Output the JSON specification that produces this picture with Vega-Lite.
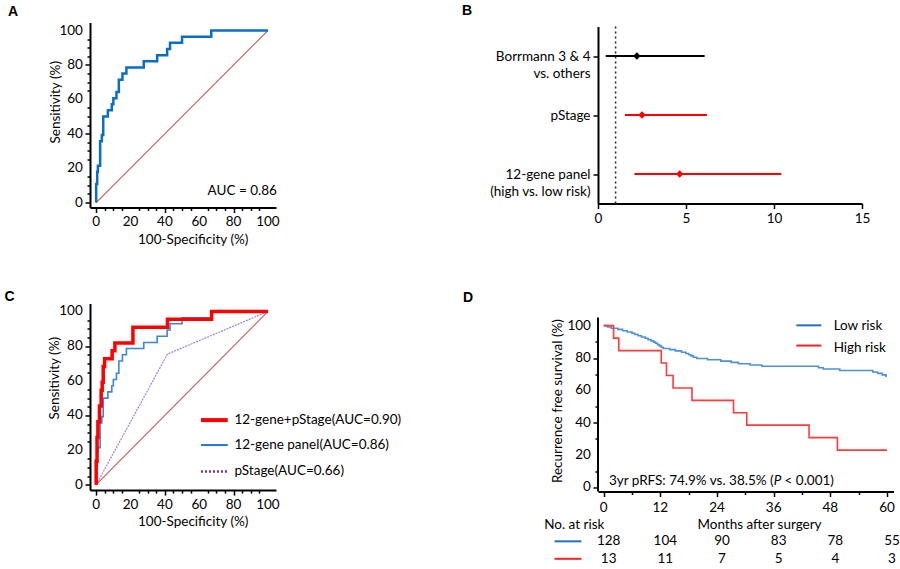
{
  "$schema": "https://vega.github.io/schema/vega-lite/v6.json",
  "background": "white",
  "padding": {"left": 4, "top": 3.5, "right": 5, "bottom": 5},
  "columns": 2,
  "bounds": "flush",
  "align": "each",
  "center": {"row": true, "column": false},
  "spacing": {"row": 96, "column": 322},
  "resolve": {"scale": {"color": "independent"}},
  "config": {
    "font": "Lato",
    "view": {"stroke": null},
    "axis": {"domainColor": "#000", "domainWidth": 2, "tickColor": "#000", "tickWidth": 1.5, "labelFont": "Lato", "labelFontSize": 13.5, "labelColor": "#000", "titleFont": "Lato", "titleFontSize": 13.5, "titleFontWeight": "normal", "titleColor": "#000", "grid": false, "labelFlush": false},
    "text": {"font": "Lato", "fontSize": 13.5, "color": "#000"},
    "title": {"font": "Liberation Sans", "fontSize": 14, "fontWeight": "bold", "anchor": "start", "frame": "group", "baseline": "alphabetic", "color": "#000"}
  },
  "datasets": {
    "one": [{}],
    "t20": [{"v": 0}, {"v": 20}, {"v": 40}, {"v": 60}, {"v": 80}, {"v": 100}],
    "t12": [{"v": 0}, {"v": 12}, {"v": 24}, {"v": 36}, {"v": 48}, {"v": 60}],
    "roc": [
      {"curve": "diag", "fpr": 0, "tpr": 0}, {"curve": "diag", "fpr": 100, "tpr": 100},
      {"curve": "pstage", "fpr": 0, "tpr": 0}, {"curve": "pstage", "fpr": 41.5, "tpr": 75.4}, {"curve": "pstage", "fpr": 100, "tpr": 100},
      {"curve": "gene12", "fpr": 0, "tpr": 0},
      {"curve": "gene12", "fpr": 0, "tpr": 10.7},
      {"curve": "gene12", "fpr": 0.6, "tpr": 17.9},
      {"curve": "gene12", "fpr": 1, "tpr": 21.4},
      {"curve": "gene12", "fpr": 2.3, "tpr": 35.7},
      {"curve": "gene12", "fpr": 3.3, "tpr": 39.3},
      {"curve": "gene12", "fpr": 4.1, "tpr": 50},
      {"curve": "gene12", "fpr": 6.8, "tpr": 53.6},
      {"curve": "gene12", "fpr": 9.1, "tpr": 57.1},
      {"curve": "gene12", "fpr": 10, "tpr": 60.7},
      {"curve": "gene12", "fpr": 11.8, "tpr": 64.3},
      {"curve": "gene12", "fpr": 13.2, "tpr": 71.4},
      {"curve": "gene12", "fpr": 15.3, "tpr": 75},
      {"curve": "gene12", "fpr": 17.6, "tpr": 78.6},
      {"curve": "gene12", "fpr": 27.7, "tpr": 82.1},
      {"curve": "gene12", "fpr": 35.5, "tpr": 85.7},
      {"curve": "gene12", "fpr": 41.3, "tpr": 89.3},
      {"curve": "gene12", "fpr": 43, "tpr": 92.9},
      {"curve": "gene12", "fpr": 50, "tpr": 96.4},
      {"curve": "gene12", "fpr": 67, "tpr": 100},
      {"curve": "gene12", "fpr": 100, "tpr": 100},
      {"curve": "combo", "fpr": 0, "tpr": 0},
      {"curve": "combo", "fpr": 0, "tpr": 13.6},
      {"curve": "combo", "fpr": 0.5, "tpr": 27.3},
      {"curve": "combo", "fpr": 1, "tpr": 36.4},
      {"curve": "combo", "fpr": 1.9, "tpr": 45.5},
      {"curve": "combo", "fpr": 2.9, "tpr": 54.5},
      {"curve": "combo", "fpr": 3.5, "tpr": 59.1},
      {"curve": "combo", "fpr": 4.1, "tpr": 68.2},
      {"curve": "combo", "fpr": 4.9, "tpr": 72.7},
      {"curve": "combo", "fpr": 9.3, "tpr": 77.3},
      {"curve": "combo", "fpr": 10.9, "tpr": 81.8},
      {"curve": "combo", "fpr": 21.4, "tpr": 90.9},
      {"curve": "combo", "fpr": 41.5, "tpr": 95.5},
      {"curve": "combo", "fpr": 67.2, "tpr": 100},
      {"curve": "combo", "fpr": 100, "tpr": 100}
    ],
    "forest": [
      {"var": "Borrmann 3 & 4|vs. others", "hr": 2.21, "lo": 0.44, "hi": 6.06},
      {"var": "pStage", "hr": 2.5, "lo": 1.53, "hi": 6.19},
      {"var": "12-gene panel|(high vs. low risk)", "hr": 4.64, "lo": 2.07, "hi": 10.42}
    ],
    "km": [
      {"group": "Low risk", "month": 0, "rfs": 100},
      {"group": "Low risk", "month": 0.8, "rfs": 99.2},
      {"group": "Low risk", "month": 1.6, "rfs": 98.4},
      {"group": "Low risk", "month": 3.0, "rfs": 97.7},
      {"group": "Low risk", "month": 4.0, "rfs": 96.9},
      {"group": "Low risk", "month": 5.0, "rfs": 96.1},
      {"group": "Low risk", "month": 6.0, "rfs": 95.3},
      {"group": "Low risk", "month": 6.6, "rfs": 94.5},
      {"group": "Low risk", "month": 7.3, "rfs": 93.8},
      {"group": "Low risk", "month": 8.0, "rfs": 93.0},
      {"group": "Low risk", "month": 8.8, "rfs": 92.2},
      {"group": "Low risk", "month": 9.4, "rfs": 91.4},
      {"group": "Low risk", "month": 10.0, "rfs": 90.6},
      {"group": "Low risk", "month": 10.6, "rfs": 89.8},
      {"group": "Low risk", "month": 11.0, "rfs": 89.1},
      {"group": "Low risk", "month": 11.4, "rfs": 88.3},
      {"group": "Low risk", "month": 11.8, "rfs": 87.5},
      {"group": "Low risk", "month": 12.2, "rfs": 86.7},
      {"group": "Low risk", "month": 12.6, "rfs": 85.9},
      {"group": "Low risk", "month": 14.0, "rfs": 85.2},
      {"group": "Low risk", "month": 15.2, "rfs": 84.4},
      {"group": "Low risk", "month": 16.5, "rfs": 83.6},
      {"group": "Low risk", "month": 17.4, "rfs": 82.8},
      {"group": "Low risk", "month": 18.0, "rfs": 82.0},
      {"group": "Low risk", "month": 18.5, "rfs": 81.3},
      {"group": "Low risk", "month": 19.0, "rfs": 80.5},
      {"group": "Low risk", "month": 19.7, "rfs": 79.7},
      {"group": "Low risk", "month": 22.0, "rfs": 78.9},
      {"group": "Low risk", "month": 24.8, "rfs": 78.1},
      {"group": "Low risk", "month": 27.0, "rfs": 77.3},
      {"group": "Low risk", "month": 28.5, "rfs": 76.5},
      {"group": "Low risk", "month": 31.0, "rfs": 75.7},
      {"group": "Low risk", "month": 33.5, "rfs": 74.9},
      {"group": "Low risk", "month": 45.5, "rfs": 74.0},
      {"group": "Low risk", "month": 46.5, "rfs": 73.2},
      {"group": "Low risk", "month": 50.0, "rfs": 72.3},
      {"group": "Low risk", "month": 57.0, "rfs": 71.4},
      {"group": "Low risk", "month": 58.0, "rfs": 70.5},
      {"group": "Low risk", "month": 59.0, "rfs": 69.6},
      {"group": "Low risk", "month": 59.8, "rfs": 68.7},
      {"group": "Low risk", "month": 60, "rfs": 68.7},
      {"group": "High risk", "month": 0, "rfs": 100},
      {"group": "High risk", "month": 2.1, "rfs": 92.3},
      {"group": "High risk", "month": 3.2, "rfs": 84.6},
      {"group": "High risk", "month": 12.2, "rfs": 76.9},
      {"group": "High risk", "month": 13.3, "rfs": 69.2},
      {"group": "High risk", "month": 14.7, "rfs": 61.5},
      {"group": "High risk", "month": 18.7, "rfs": 53.8},
      {"group": "High risk", "month": 27.5, "rfs": 46.2},
      {"group": "High risk", "month": 30.3, "rfs": 38.5},
      {"group": "High risk", "month": 43.5, "rfs": 30.8},
      {"group": "High risk", "month": 49.5, "rfs": 23.1},
      {"group": "High risk", "month": 60, "rfs": 23.1}
    ],
    "risk": [
      {"group": "Low risk", "month": 0, "n": 128}, {"group": "Low risk", "month": 12, "n": 104}, {"group": "Low risk", "month": 24, "n": 90},
      {"group": "Low risk", "month": 36, "n": 83}, {"group": "Low risk", "month": 48, "n": 78}, {"group": "Low risk", "month": 60, "n": 55},
      {"group": "High risk", "month": 0, "n": 13}, {"group": "High risk", "month": 12, "n": 11}, {"group": "High risk", "month": 24, "n": 7},
      {"group": "High risk", "month": 36, "n": 5}, {"group": "High risk", "month": 48, "n": 4}, {"group": "High risk", "month": 60, "n": 3}
    ]
  },
  "concat": [
    {
      "width": 186, "height": 185,
      "title": {"text": "A", "dx": -82, "offset": 4},
      "resolve": {"axis": {"x": "independent", "y": "independent"}},
      "layer": [
        {
          "layer": [
            {
              "data": {"name": "roc"},
              "transform": [{"filter": "datum.curve === 'diag'"}],
              "mark": {"type": "line", "stroke": "#c55a55", "strokeWidth": 1.1},
              "encoding": {
                "x": {"field": "fpr", "type": "quantitative", "scale": {"domain": [-3.6, 104.7], "nice": false, "zero": false},
                  "axis": {"orient": "bottom", "values": [0, 20, 40, 60, 80, 100], "tickSize": 5, "labels": false, "title": null}},
                "y": {"field": "tpr", "type": "quantitative", "scale": {"domain": [-2.9, 104.7], "nice": false, "zero": false},
                  "axis": {"orient": "left", "values": [0, 20, 40, 60, 80, 100], "tickSize": 5, "labels": false, "title": null}}
              }
            },
            {
              "data": {"name": "roc"},
              "transform": [{"filter": "datum.curve === 'gene12'"}],
              "mark": {"type": "line", "color": "#0a6fc4", "strokeWidth": 2.5, "interpolate": "step-after"},
              "encoding": {
                "x": {"field": "fpr", "type": "quantitative"},
                "y": {"field": "tpr", "type": "quantitative"},
                "order": {"value": null}
              }
            },
            {
              "data": {"name": "t20"},
              "mark": {"type": "text", "align": "center", "baseline": "middle"},
              "encoding": {"x": {"field": "v", "type": "quantitative"}, "y": {"datum": -11.3}, "text": {"field": "v", "type": "quantitative"}}
            },
            {
              "data": {"name": "t20"},
              "mark": {"type": "text", "align": "right", "baseline": "middle"},
              "encoding": {"x": {"datum": -7.7}, "y": {"field": "v", "type": "quantitative"}, "text": {"field": "v", "type": "quantitative"}}
            },
            {
              "data": {"name": "one"},
              "mark": {"type": "text", "text": "AUC = 0.86", "align": "right", "baseline": "middle"},
              "encoding": {"x": {"datum": 105.2}, "y": {"datum": 6.8}}
            },
            {
              "data": {"name": "one"},
              "mark": {"type": "text", "text": "100-Specificity (%)", "align": "center", "baseline": "middle"},
              "encoding": {"x": {"datum": 56.5}, "y": {"datum": -21.6}}
            },
            {
              "data": {"name": "one"},
              "mark": {"type": "text", "text": "Sensitivity (%)", "align": "center", "baseline": "middle", "angle": 270},
              "encoding": {"x": {"datum": -23.4}, "y": {"datum": 58.3}}
            }
          ]
        },
        {
          "data": {"name": "one"},
          "mark": {"type": "point", "opacity": 0},
          "encoding": {
            "x": {"datum": 50, "axis": {"orient": "bottom", "values": [5, 10, 15, 25, 30, 35, 45, 50, 55, 65, 70, 75, 85, 90, 95], "labels": false, "domain": false, "tickSize": 3, "title": null}},
            "y": {"datum": 50, "axis": {"orient": "left", "values": [5, 10, 15, 25, 30, 35, 45, 50, 55, 65, 70, 75, 85, 90, 95], "labels": false, "domain": false, "tickSize": 3, "title": null}}
          }
        }
      ]
    },
    {
      "width": 264, "height": 177,
      "title": {"text": "B", "dx": -136, "offset": 8},
      "layer": [
        {
          "data": {"name": "forest"},
          "mark": {"type": "rule", "strokeWidth": 2},
          "encoding": {
            "x": {"field": "lo", "type": "quantitative", "scale": {"domain": [0, 15], "nice": false, "zero": false},
              "axis": {"values": [0, 5, 10, 15], "tickSize": 5, "labelPadding": 3, "title": null}},
            "x2": {"field": "hi"},
            "y": {"field": "var", "type": "nominal", "sort": null, "scale": {"type": "point", "padding": 0.5},
              "axis": {"title": null, "tickSize": 5, "labelPadding": 3, "labelExpr": "split(datum.value, '|')", "labelLineHeight": 17.5, "labelAlign": "right", "labelBaseline": "middle", "labelLimit": 250}},
            "color": {"condition": {"test": "indexof(datum.var, 'Borrmann') === 0", "value": "#000000"}, "value": "#ff0000"}
          }
        },
        {
          "data": {"name": "one"},
          "mark": {"type": "rule", "strokeDash": [2, 3], "color": "#222", "strokeWidth": 1.5},
          "encoding": {"x": {"datum": 1}}
        },
        {
          "data": {"name": "forest"},
          "mark": {"type": "point", "shape": "diamond", "filled": true, "size": 55, "opacity": 1},
          "encoding": {
            "x": {"field": "hr", "type": "quantitative"},
            "y": {"field": "var", "type": "nominal", "sort": null},
            "color": {"condition": {"test": "indexof(datum.var, 'Borrmann') === 0", "value": "#000000"}, "value": "#ff0000"}
          }
        }
      ]
    },
    {
      "width": 186, "height": 186.6,
      "title": {"text": "C", "dx": -85.5, "offset": 0},
      "resolve": {"axis": {"x": "independent", "y": "independent"}},
      "layer": [
        {
          "layer": [
            {
              "data": {"name": "roc"},
              "transform": [{"filter": "datum.curve === 'diag'"}],
              "mark": {"type": "line", "stroke": "#c55a55", "strokeWidth": 1.1},
              "encoding": {
                "x": {"field": "fpr", "type": "quantitative", "scale": {"domain": [-3.6, 104.7], "nice": false, "zero": false},
                  "axis": {"orient": "bottom", "values": [0, 20, 40, 60, 80, 100], "tickSize": 5, "labels": false, "title": null}},
                "y": {"field": "tpr", "type": "quantitative", "scale": {"domain": [-3.1, 104.6], "nice": false, "zero": false},
                  "axis": {"orient": "left", "values": [0, 20, 40, 60, 80, 100], "tickSize": 5, "labels": false, "title": null}}
              }
            },
            {
              "data": {"name": "roc"},
              "transform": [{"filter": "datum.curve === 'pstage'"}],
              "mark": {"type": "line", "color": "#a47fd8", "strokeWidth": 1.2, "strokeDash": [2, 1]},
              "encoding": {
                "x": {"field": "fpr", "type": "quantitative"},
                "y": {"field": "tpr", "type": "quantitative"}
              }
            },
            {
              "data": {"name": "roc"},
              "transform": [{"filter": "datum.curve === 'gene12'"}],
              "mark": {"type": "line", "color": "#3a88d4", "strokeWidth": 1.6, "interpolate": "step-after"},
              "encoding": {
                "x": {"field": "fpr", "type": "quantitative"},
                "y": {"field": "tpr", "type": "quantitative"},
                "order": {"value": null}
              }
            },
            {
              "data": {"name": "roc"},
              "transform": [{"filter": "datum.curve === 'combo'"}],
              "mark": {"type": "line", "color": "#ff0000", "strokeWidth": 3.5, "interpolate": "step-after"},
              "encoding": {
                "x": {"field": "fpr", "type": "quantitative"},
                "y": {"field": "tpr", "type": "quantitative"},
                "order": {"value": null}
              }
            },
            {
              "data": {"name": "t20"},
              "mark": {"type": "text", "align": "center", "baseline": "middle"},
              "encoding": {"x": {"field": "v", "type": "quantitative"}, "y": {"datum": -11.5}, "text": {"field": "v", "type": "quantitative"}}
            },
            {
              "data": {"name": "t20"},
              "mark": {"type": "text", "align": "right", "baseline": "middle"},
              "encoding": {"x": {"datum": -7.8}, "y": {"field": "v", "type": "quantitative"}, "text": {"field": "v", "type": "quantitative"}}
            },
            {
              "data": {"name": "one"},
              "mark": {"type": "rule", "color": "#ff0000", "strokeWidth": 4},
              "encoding": {"x": {"datum": 61}, "x2": {"datum": 76.6}, "y": {"datum": 37.3}}
            },
            {
              "data": {"name": "one"},
              "mark": {"type": "rule", "color": "#1f78cc", "strokeWidth": 2},
              "encoding": {"x": {"datum": 61}, "x2": {"datum": 76.6}, "y": {"datum": 22.9}}
            },
            {
              "data": {"name": "one"},
              "mark": {"type": "rule", "color": "#7030a0", "strokeWidth": 2.5, "strokeDash": [2, 2]},
              "encoding": {"x": {"datum": 61}, "x2": {"datum": 76.6}, "y": {"datum": 7.7}}
            },
            {
              "data": {"name": "one"},
              "mark": {"type": "text", "text": "12-gene+pStage(AUC=0.90)", "align": "left", "baseline": "middle"},
              "encoding": {"x": {"datum": 80.5}, "y": {"datum": 37.3}}
            },
            {
              "data": {"name": "one"},
              "mark": {"type": "text", "text": "12-gene panel(AUC=0.86)", "align": "left", "baseline": "middle"},
              "encoding": {"x": {"datum": 80.5}, "y": {"datum": 22.9}}
            },
            {
              "data": {"name": "one"},
              "mark": {"type": "text", "text": "pStage(AUC=0.66)", "align": "left", "baseline": "middle"},
              "encoding": {"x": {"datum": 80.5}, "y": {"datum": 7.7}}
            },
            {
              "data": {"name": "one"},
              "mark": {"type": "text", "text": "100-Specificity (%)", "align": "center", "baseline": "middle"},
              "encoding": {"x": {"datum": 56.5}, "y": {"datum": -21.6}}
            },
            {
              "data": {"name": "one"},
              "mark": {"type": "text", "text": "Sensitivity (%)", "align": "center", "baseline": "middle", "angle": 270},
              "encoding": {"x": {"datum": -23.8}, "y": {"datum": 61.5}}
            }
          ]
        },
        {
          "data": {"name": "one"},
          "mark": {"type": "point", "opacity": 0},
          "encoding": {
            "x": {"datum": 50, "axis": {"orient": "bottom", "values": [5, 10, 15, 25, 30, 35, 45, 50, 55, 65, 70, 75, 85, 90, 95], "labels": false, "domain": false, "tickSize": 3, "title": null}},
            "y": {"datum": 50, "axis": {"orient": "left", "values": [5, 10, 15, 25, 30, 35, 45, 50, 55, 65, 70, 75, 85, 90, 95], "labels": false, "domain": false, "tickSize": 3, "title": null}}
          }
        }
      ]
    },
    {
      "width": 295.6, "height": 188,
      "title": {"text": "D", "dx": -135, "offset": -1},
      "resolve": {"axis": {"x": "independent", "y": "independent"}},
      "layer": [
        {
          "layer": [
            {
              "data": {"name": "km"},
              "mark": {"type": "line", "strokeWidth": 1.6, "interpolate": "step-after"},
              "encoding": {
                "x": {"field": "month", "type": "quantitative", "scale": {"domain": [-1.2, 61.4], "nice": false, "zero": false},
                  "axis": {"orient": "bottom", "values": [0, 12, 24, 36, 48, 60], "tickSize": 5, "labels": false, "title": null}},
                "y": {"field": "rfs", "type": "quantitative", "scale": {"domain": [-2.5, 113.7], "nice": false, "zero": false},
                  "axis": {"orient": "left", "values": [0, 20, 40, 60, 80, 100], "tickSize": 5, "labels": false, "domain": false, "title": null}},
                "color": {"field": "group", "type": "nominal", "scale": {"domain": ["Low risk", "High risk"], "range": ["#4a91d8", "#ff3a3a"]}, "legend": null}
              }
            },
            {
              "data": {"name": "one"},
              "mark": {"type": "rule", "color": "#000", "strokeWidth": 2},
              "encoding": {"x": {"datum": -1.2}, "y": {"datum": -2.5}, "y2": {"datum": 105.1}}
            },
            {
              "data": {"name": "t12"},
              "mark": {"type": "text", "align": "center", "baseline": "middle"},
              "encoding": {"x": {"field": "v", "type": "quantitative"}, "y": {"datum": -12.7}, "text": {"field": "v", "type": "quantitative"}}
            },
            {
              "data": {"name": "t20"},
              "mark": {"type": "text", "align": "right", "baseline": "middle"},
              "encoding": {"x": {"datum": -2.7}, "y": {"field": "v", "type": "quantitative"}, "text": {"field": "v", "type": "quantitative"}}
            },
            {
              "data": {"name": "one"},
              "mark": {"type": "text", "text": "Recurrence free survival (%)", "align": "center", "baseline": "middle", "angle": 270},
              "encoding": {"x": {"datum": -9.7}, "y": {"datum": 53.4}}
            },
            {
              "data": {"name": "one"},
              "mark": {"type": "rule", "color": "#2370c4", "strokeWidth": 2},
              "encoding": {"x": {"datum": 40.8}, "x2": {"datum": 46.1}, "y": {"datum": 100.2}}
            },
            {
              "data": {"name": "one"},
              "mark": {"type": "rule", "color": "#ff2020", "strokeWidth": 2},
              "encoding": {"x": {"datum": 40.8}, "x2": {"datum": 46.1}, "y": {"datum": 87.7}}
            },
            {
              "data": {"name": "one"},
              "mark": {"type": "text", "text": "Low risk", "align": "left", "baseline": "middle"},
              "encoding": {"x": {"datum": 48.7}, "y": {"datum": 99.6}}
            },
            {
              "data": {"name": "one"},
              "mark": {"type": "text", "text": "High risk", "align": "left", "baseline": "middle"},
              "encoding": {"x": {"datum": 48.7}, "y": {"datum": 86.2}}
            },
            {
              "data": {"name": "one"},
              "mark": {"type": "text", "text": "3yr pRFS: 74.9% vs. 38.5% (", "align": "right", "baseline": "middle"},
              "encoding": {"x": {"datum": 36.0}, "y": {"datum": 4.1}}
            },
            {
              "data": {"name": "one"},
              "mark": {"type": "text", "text": "P", "align": "center", "baseline": "middle", "fontStyle": "italic"},
              "encoding": {"x": {"datum": 36.8}, "y": {"datum": 4.1}}
            },
            {
              "data": {"name": "one"},
              "mark": {"type": "text", "text": "< 0.001)", "align": "left", "baseline": "middle"},
              "encoding": {"x": {"datum": 38.3}, "y": {"datum": 4.1}}
            },
            {
              "data": {"name": "one"},
              "mark": {"type": "text", "text": "No. at risk", "align": "left", "baseline": "middle"},
              "encoding": {"x": {"datum": -12.6}, "y": {"datum": -23}}
            },
            {
              "data": {"name": "one"},
              "mark": {"type": "text", "text": "Months after surgery", "align": "center", "baseline": "middle"},
              "encoding": {"x": {"datum": 33.0}, "y": {"datum": -23}}
            },
            {
              "data": {"name": "one"},
              "mark": {"type": "rule", "color": "#2370c4", "strokeWidth": 2},
              "encoding": {"x": {"datum": -10.4}, "x2": {"datum": -4.7}, "y": {"datum": -33.3}}
            },
            {
              "data": {"name": "one"},
              "mark": {"type": "rule", "color": "#ff2020", "strokeWidth": 2},
              "encoding": {"x": {"datum": -10.4}, "x2": {"datum": -4.7}, "y": {"datum": -44.1}}
            },
            {
              "data": {"name": "risk"},
              "transform": [{"filter": "datum.group === 'Low risk'"}],
              "mark": {"type": "text", "align": "center", "baseline": "middle", "dx": 5},
              "encoding": {"x": {"field": "month", "type": "quantitative"}, "y": {"datum": -33.3}, "text": {"field": "n", "type": "quantitative"}}
            },
            {
              "data": {"name": "risk"},
              "transform": [{"filter": "datum.group === 'High risk'"}],
              "mark": {"type": "text", "align": "center", "baseline": "middle", "dx": 5},
              "encoding": {"x": {"field": "month", "type": "quantitative"}, "y": {"datum": -44.1}, "text": {"field": "n", "type": "quantitative"}}
            }
          ]
        },
        {
          "data": {"name": "one"},
          "mark": {"type": "point", "opacity": 0},
          "encoding": {
            "x": {"datum": 30, "axis": {"orient": "bottom", "values": [6, 18, 30, 42, 54], "labels": false, "domain": false, "tickSize": 3, "title": null}},
            "y": {"datum": 50, "axis": {"orient": "left", "values": [10, 30, 50, 70, 90], "labels": false, "domain": false, "tickSize": 3, "title": null}}
          }
        }
      ]
    }
  ]
}
